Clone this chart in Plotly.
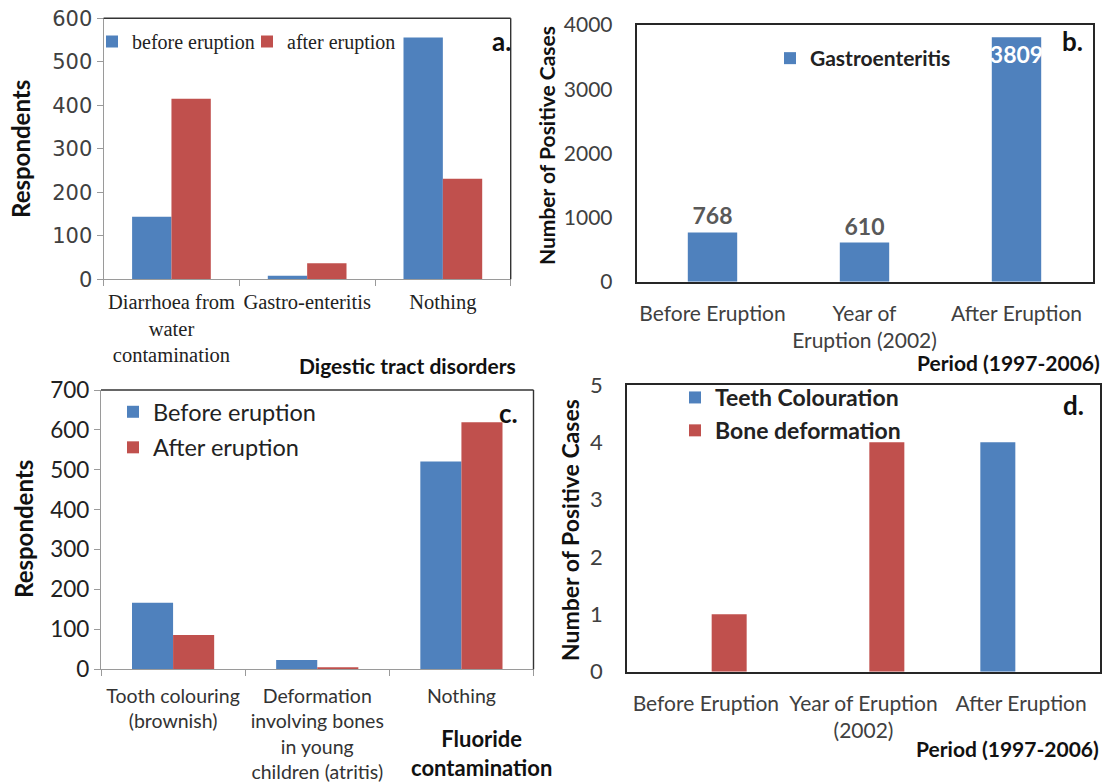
import plotly.graph_objects as go

# ---- data -------------------------------------------------------------
a_categories = ["Diarrhoea from<br>water<br>contamination", "Gastro-enteritis", "Nothing"]
a_before = [144, 8, 556]
a_after = [415, 37, 231]

b_categories = ["Before Eruption", "Year of<br>Eruption (2002)", "After Eruption"]
b_cases = [768, 610, 3809]

c_categories = ["Tooth colouring<br>(brownish)",
                "Deformation<br>involving bones<br>in young<br>children (atritis)",
                "Nothing"]
c_before = [167, 23, 521]
c_after = [86, 5, 619]

d_categories = ["Before Eruption", "Year of Eruption<br>(2002)", "After Eruption"]
d_teeth = [0, 0, 4]
d_bone = [1, 4, 0]

# ---- style ------------------------------------------------------------
W, H = 1102, 783
BLUE = "#4F81BD"
RED = "#C0504D"
SANS = "Lato"
SERIF = "Liberation Serif"
AXIS_GREY = "#9a9a9a"
FRAME = "#262626"
TICK_TXT = "#404040"


def px(x):
    return x / W


def py(y):
    return 1 - y / H


fig = go.Figure()

# panel a (each series keeps its own legend box so the two keys sit close together)
fig.add_trace(go.Bar(x=a_categories, y=a_before, name="before eruption", marker_color=BLUE,
                     width=0.29, offset=-0.29, xaxis="x", yaxis="y", legend="legend"))
fig.add_trace(go.Bar(x=a_categories, y=a_after, name="after eruption", marker_color=RED,
                     width=0.29, offset=0.0, xaxis="x", yaxis="y", legend="legend5"))

# panel b
fig.add_trace(go.Bar(x=b_categories, y=b_cases, name="<b>Gastroenteritis</b>", marker_color=BLUE,
                     width=0.325, offset=-0.1625, xaxis="x2", yaxis="y2", legend="legend2",
                     text=[str(v) for v in b_cases], texttemplate="<b>%{text}</b>",
                     textposition=["outside", "outside", "inside"], insidetextanchor="end",
                     textangle=0, constraintext="none", cliponaxis=False,
                     outsidetextfont=dict(family=SANS, size=23, color="#595959"),
                     insidetextfont=dict(family=SANS, size=23, color="white")))

# panel c
fig.add_trace(go.Bar(x=c_categories, y=c_before, name="Before eruption", marker_color=BLUE,
                     width=0.285, offset=-0.285, xaxis="x3", yaxis="y3", legend="legend3",
                     legendgroup="c1"))
fig.add_trace(go.Bar(x=c_categories, y=c_after, name="After eruption", marker_color=RED,
                     width=0.285, offset=0.0, xaxis="x3", yaxis="y3", legend="legend3",
                     legendgroup="c2"))

# panel d
fig.add_trace(go.Bar(x=d_categories, y=d_teeth, name="<b>Teeth Colouration</b>", marker_color=BLUE,
                     width=0.222, offset=-0.259, xaxis="x4", yaxis="y4", legend="legend4",
                     legendgroup="d1"))
fig.add_trace(go.Bar(x=d_categories, y=d_bone, name="<b>Bone deformation</b>", marker_color=RED,
                     width=0.222, offset=0.037, xaxis="x4", yaxis="y4", legend="legend4",
                     legendgroup="d2"))

fig.update_traces(marker_line_width=0, hoverinfo="skip")

open_x = dict(type="category", range=[-0.5, 2.5], showline=True, linecolor=AXIS_GREY, linewidth=1.2,
              ticks="outside", tickson="boundaries", ticklen=6, tickcolor=AXIS_GREY, tickangle=0,
              showgrid=False, zeroline=False, fixedrange=True, automargin=False)
open_y = dict(showline=True, linecolor=AXIS_GREY, linewidth=1.2, ticks="outside", ticklen=6,
              tickcolor=AXIS_GREY, showgrid=False, zeroline=False, fixedrange=True,
              automargin=False)
boxed_x = dict(type="category", range=[-0.5, 2.5], showline=True, mirror=True, linecolor=FRAME,
               linewidth=1.6, ticks="", tickangle=0, showgrid=False, zeroline=False,
               fixedrange=True, automargin=False)
boxed_y = dict(showline=True, mirror=True, linecolor=FRAME, linewidth=1.6, ticks="",
               showgrid=False, zeroline=False, fixedrange=True, automargin=False)

legend_common = dict(xanchor="left", yanchor="top", bgcolor="rgba(0,0,0,0)",
                     itemclick=False, itemdoubleclick=False)

fig.update_layout(
    width=W, height=H, autosize=False,
    margin=dict(l=0, r=0, t=0, b=0, pad=0),
    paper_bgcolor="white", plot_bgcolor="white",
    barmode="group",
    font=dict(family=SANS, color="#222"),
    xaxis=dict(open_x, domain=[px(103.6), px(510.7)], anchor="y",
               tickfont=dict(family=SERIF, size=20.5, color="#222"), ticklabelstandoff=4),
    yaxis=dict(open_y, domain=[py(279.3), py(18.3)], anchor="x", range=[0, 600], dtick=100,
               tickfont=dict(family="DejaVu Sans", size=21, color=TICK_TXT)),
    xaxis2=dict(boxed_x, domain=[px(636.5), px(1092.5)], anchor="y2",
                tickfont=dict(family=SANS, size=21, color=TICK_TXT), ticklabelstandoff=12),
    yaxis2=dict(boxed_y, domain=[py(281.7), py(25)], anchor="x2", range=[0, 4000], dtick=1000,
                tickfont=dict(family=SANS, size=21, color=TICK_TXT), ticklabelstandoff=18),
    xaxis3=dict(open_x, domain=[px(101), px(533.5)], anchor="y3",
                tickfont=dict(family=SANS, size=19.5, color="#333"), ticklabelstandoff=9),
    yaxis3=dict(open_y, domain=[py(669.3), py(390)], anchor="x3", range=[0, 700], dtick=100,
                tickfont=dict(family=SANS, size=22.5, color="#222")),
    xaxis4=dict(boxed_x, domain=[px(627), px(1100)], anchor="y4",
                tickfont=dict(family=SANS, size=21, color=TICK_TXT), ticklabelstandoff=12),
    yaxis4=dict(boxed_y, domain=[py(671.7), py(385)], anchor="x4", range=[0, 5], dtick=1,
                tickfont=dict(family=SANS, size=22, color=TICK_TXT), ticklabelstandoff=18),
    legend=dict(legend_common, x=px(92), y=py(22),
                font=dict(family=SERIF, size=20, color="#222")),
    legend5=dict(legend_common, x=px(247), y=py(22),
                 font=dict(family=SERIF, size=20, color="#222")),
    legend2=dict(legend_common, x=px(770), y=py(38),
                 font=dict(family=SANS, size=21, color="#222")),
    legend3=dict(legend_common, x=px(113), y=py(390), tracegroupgap=2,
                 font=dict(family=SANS, size=23.5, color="#222")),
    legend4=dict(legend_common, x=px(675), y=py(376), tracegroupgap=0,
                 font=dict(family=SANS, size=23, color="#222")),
    showlegend=True,
)

# dark top/right border on the open panels
for xr, yr in (("x domain", "y domain"), ("x3 domain", "y3 domain")):
    fig.add_shape(type="line", xref=xr, yref=yr, x0=0, x1=1, y0=1, y1=1,
                  line=dict(color="#333", width=1.4))
    fig.add_shape(type="line", xref=xr, yref=yr, x0=1, x1=1, y0=0, y1=1,
                  line=dict(color="#333", width=1.4))


def note(text, x, y, size, angle=0, xanchor="center", color="#111"):
    fig.add_annotation(text=text, x=px(x), y=py(y), xref="paper", yref="paper",
                       xanchor=xanchor, yanchor="middle", showarrow=False, textangle=angle,
                       font=dict(family=SANS, size=size, color=color))


# panel letters
note("<b>a.</b>", 501, 41, 26)
note("<b>b.</b>", 1072, 41, 26)
note("<b>c.</b>", 508, 413, 26)
note("<b>d.</b>", 1073, 405, 26)

# axis titles
note("<b>Respondents</b>", 20, 149, 24, angle=-90)
note("<b>Digestic tract disorders</b>", 407, 365, 21)
note("<b>Number of Positive Cases</b>", 546, 146, 21, angle=-90)
note("<b>Period (1997-2006)</b>", 1009, 362, 21)
note("<b>Respondents</b>", 23, 529, 24, angle=-90)
note("<b>Fluoride<br>contamination</b>", 481, 753, 22)
note("<b>Number of Positive Cases</b>", 570, 530, 23, angle=-90)
note("<b>Period (1997-2006)</b>", 1007, 748, 21)

fig.write_html("out.html", config={"displayModeBar": False})
